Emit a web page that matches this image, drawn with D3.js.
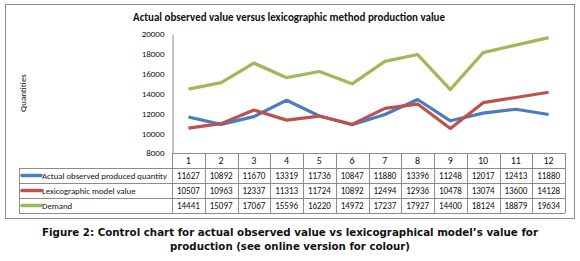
<!DOCTYPE html>
<html>
<head>
<meta charset="utf-8">
<script src="https://cdn.jsdelivr.net/npm/d3@7"></script>
<style>
  body { margin: 0; background: #fff; }
  svg { display: block; }
  text { fill: #111; }
</style>
</head>
<body>
<svg id="chart" width="580" height="261"></svg>
<script>
const periods = [1, 2, 3, 4, 5, 6, 7, 8, 9, 10, 11, 12];
const actual = [11627, 10892, 11670, 13319, 11736, 10847, 11880, 13396, 11248, 12017, 12413, 11880];
const lexico = [10507, 10963, 12337, 11313, 11724, 10892, 12494, 12936, 10478, 13074, 13600, 14128];
const demand = [14441, 15097, 17067, 15596, 16220, 14972, 17237, 17927, 14400, 18124, 18879, 19634];
const seriesNames = ["Actual observed produced quantity", "Lexicographic model  value", "Demand"];
const colors = ["#4a7ebb", "#c0504d", "#9bbb59"];
const yTicks = [8000, 10000, 12000, 14000, 16000, 18000, 20000];

const series = [actual, lexico, demand];
const font = "Carlito, Lato, 'Liberation Sans', sans-serif";

const svg = d3.select("#chart");

// outer chart frame
svg.append("rect")
  .attr("x", 5.5).attr("y", 4.5)
  .attr("width", 569).attr("height", 214)
  .attr("fill", "none").attr("stroke", "#8c8c8c");

const plotLeft = 172, plotRight = 565, plotTop = 34, axisY = 153, rowH = 15, legendX = 19;

const x = d3.scaleBand().domain(periods).range([plotLeft, plotRight]);
const y = d3.scaleLinear().domain([8000, 20000]).range([axisY, plotTop]);

// squeeze a text horizontally (Calibri is narrower than the fonts we have)
function squeeze(sel, k) {
  sel.each(function () {
    const w = this.getComputedTextLength();
    d3.select(this).attr("textLength", w * k).attr("lengthAdjust", "spacingAndGlyphs");
  });
}

// title
svg.append("text")
  .attr("x", 289).attr("y", 21)
  .attr("text-anchor", "middle")
  .style("font-family", font).style("font-weight", "bold").style("font-size", "11px")
  .attr("textLength", 312).attr("lengthAdjust", "spacingAndGlyphs")
  .text("Actual observed value versus lexicographic method  production value");

// y axis title
svg.append("text")
  .attr("transform", "translate(26,93) rotate(-90)")
  .attr("text-anchor", "middle")
  .style("font-family", font).style("font-size", "9px")
  .text("Quantities");

// y axis
const yAxis = svg.append("g")
  .attr("transform", `translate(${plotLeft + 0.5},0)`)
  .call(d3.axisLeft(y).tickValues(yTicks).tickSize(0).tickPadding(8).tickFormat(d3.format("d")));
yAxis.select(".domain").attr("stroke", "#8c8c8c");
yAxis.selectAll("text").style("font-family", font).style("font-size", "9px").attr("fill", "#111");

// lines
const line = d3.line()
  .x((d, i) => x(periods[i]) + x.bandwidth() / 2)
  .y(d => y(d));

series.forEach((vals, k) => {
  svg.append("path")
    .datum(vals)
    .attr("d", line)
    .attr("fill", "none")
    .attr("stroke", colors[k])
    .attr("stroke-width", 3.2)
    .attr("stroke-linejoin", "round");
});

// data table
const grid = svg.append("g").attr("stroke", "#8c8c8c").attr("shape-rendering", "crispEdges");
const tableBottom = axisY + rowH * 4;
grid.append("line").attr("x1", plotLeft).attr("x2", plotRight).attr("y1", axisY + 0.5).attr("y2", axisY + 0.5);
for (let r = 1; r <= 4; r++) {
  grid.append("line")
    .attr("x1", legendX).attr("x2", plotRight)
    .attr("y1", axisY + r * rowH + 0.5).attr("y2", axisY + r * rowH + 0.5);
}
d3.range(periods.length + 1).forEach(i => {
  const xx = Math.round(plotLeft + i * x.bandwidth()) + 0.5;
  grid.append("line").attr("x1", xx).attr("x2", xx).attr("y1", axisY).attr("y2", tableBottom);
});
grid.append("line")
  .attr("x1", legendX + 0.5).attr("x2", legendX + 0.5)
  .attr("y1", axisY + rowH).attr("y2", tableBottom);

// header cells
svg.append("g").selectAll("text")
  .data(periods).join("text")
  .attr("x", d => x(d) + x.bandwidth() / 2)
  .attr("y", axisY + rowH / 2 + 3.5)
  .attr("text-anchor", "middle")
  .style("font-family", font).style("font-size", "10px")
  .text(d => d);

// legend key + label + values per row
const labels = [];
series.forEach((vals, k) => {
  const rowY = axisY + (k + 1) * rowH;
  svg.append("line")
    .attr("x1", legendX + 3).attr("x2", legendX + 22)
    .attr("y1", rowY + rowH / 2).attr("y2", rowY + rowH / 2)
    .attr("stroke", colors[k]).attr("stroke-width", 3.5).attr("stroke-linecap", "round");
  labels.push(svg.append("text")
    .attr("x", legendX + 23).attr("y", rowY + rowH / 2 + 3.3)
    .style("font-family", font).style("font-size", "10px")
    .text(seriesNames[k]));
  svg.append("g").attr("class", "vals").selectAll("text")
    .data(vals).join("text")
    .attr("x", (d, i) => x(periods[i]) + x.bandwidth() / 2)
    .attr("y", rowY + rowH / 2 + 3.5)
    .attr("text-anchor", "middle")
    .style("font-family", font).style("font-size", "10px")
    .text(d => d);
});
// shrink legend labels so the longest one fits the reference width
const labelSize = Math.min(10, 10 * 125 / labels[0].node().getComputedTextLength());
labels.forEach(l => l.style("font-size", labelSize + "px"));
squeeze(svg.selectAll(".vals text"), 0.9);

// caption
const capFont = "'DejaVu Sans', Verdana, sans-serif";
svg.append("text")
  .attr("x", 290).attr("y", 236)
  .attr("text-anchor", "middle")
  .style("font-family", capFont).style("font-weight", "bold").style("font-size", "11px")
  .attr("textLength", 496).attr("lengthAdjust", "spacingAndGlyphs")
  .text("Figure 2: Control chart for actual observed value vs lexicographical model\u2019s value for");
svg.append("text")
  .attr("x", 290).attr("y", 250)
  .attr("text-anchor", "middle")
  .style("font-family", capFont).style("font-weight", "bold").style("font-size", "11px")
  .attr("textLength", 240).attr("lengthAdjust", "spacingAndGlyphs")
  .text("production (see online version for colour)");
</script>
</body>
</html>
